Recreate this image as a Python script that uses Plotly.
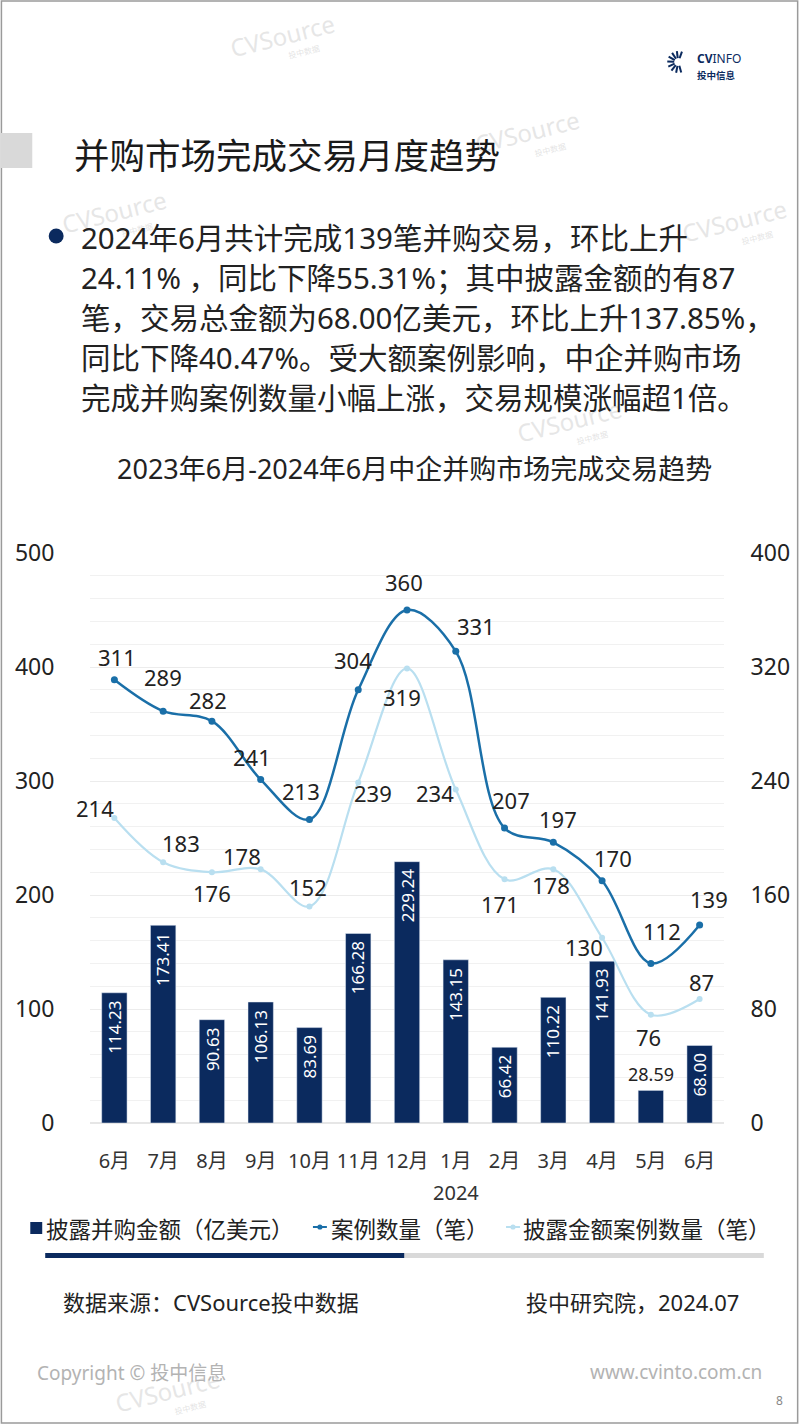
"""中企并购市场完成交易月度趋势 (2023.06-2024.06)."""

import math

import plotly.graph_objects as go

months = ["6月", "7月", "8月", "9月", "10月", "11月", "12月",
          "1月", "2月", "3月", "4月", "5月", "6月"]
year_label = "2024"
year_label_month = 7  # 1月 of 2024

amounts = [114.23, 173.41, 90.63, 106.13, 83.69, 166.28, 229.24,
           143.15, 66.42, 110.22, 141.93, 28.59, 68.00]
deal_counts = [311, 289, 282, 241, 213, 304, 360, 331, 207, 197, 170, 112, 139]
disclosed_counts = [214, 183, 176, 178, 152, 239, 319, 234, 171, 178, 130, 76, 87]

# label offsets (px) from each point, as placed in the original slide
count_label_shift = [(3, 23), (0, 34), (-4, 21), (-9, 23), (-8, 28), (-5, 30), (-3, 28),
                     (20, 25), (6, 28), (5, 23), (11, 23), (11, 32), (9, 26)]
disclosed_label_shift = [(-19, 10), (18, 19), (0, -21), (-19, 13), (-1, 19), (15, -11),
                         (-5, -29), (-21, -3), (-5, -25), (-2, -16), (-18, -9), (-2, -22),
                         (2, 17)]

title = "并购市场完成交易月度趋势"
bullet_lines = [
    "2024年6月共计完成139笔并购交易，环比上升",
    "24.11% ，同比下降55.31%；其中披露金额的有87",
    "笔，交易总金额为68.00亿美元，环比上升137.85%，",
    "同比下降40.47%。受大额案例影响，中企并购市场",
    "完成并购案例数量小幅上涨，交易规模涨幅超1倍。",
]
chart_title = "2023年6月-2024年6月中企并购市场完成交易趋势"
legend_names = ["披露并购金额（亿美元）", "案例数量（笔）", "披露金额案例数量（笔）"]

NAVY = "#0b2a5e"
BLUE = "#1a6fa8"
LIGHT = "#b9dff0"
TEXT = "#222222"
FONT = "Noto Sans, Noto Sans CJK SC, sans-serif"

W, H = 802, 1424
ML, MR, MT, MB = 90, 75, 553, 301
PW, PH = W - ML - MR, H - MT - MB


def px_x(px):
    return (px - ML) / PW


def px_y(py):
    return (H - MB - py) / PH


x_idx = list(range(len(months)))

fig = go.Figure()
fig.add_trace(go.Bar(
    x=x_idx, y=amounts, name=legend_names[0], marker_color=NAVY, width=0.52,
    showlegend=False,
))
fig.add_trace(go.Scatter(
    x=x_idx, y=deal_counts, name=legend_names[1], yaxis="y2",
    mode="lines+markers", line=dict(color=BLUE, width=2.5, shape="spline", smoothing=1),
    marker=dict(size=7, color=BLUE), cliponaxis=False, showlegend=False,
))
fig.add_trace(go.Scatter(
    x=x_idx, y=disclosed_counts, name=legend_names[2], yaxis="y2",
    mode="lines+markers", line=dict(color=LIGHT, width=2.2, shape="spline", smoothing=1),
    marker=dict(size=6, color=LIGHT), cliponaxis=False, showlegend=False,
))

ann = []
# bar value labels: rotated inside tall bars, above short ones
for i, v in enumerate(amounts):
    if v >= 40:
        ann.append(dict(x=i, y=v, xref="x", yref="y", text=f"{v:.2f}", showarrow=False,
                        textangle=-90, yanchor="top", yshift=-6,
                        font=dict(size=17, color="white", family=FONT)))
    else:
        ann.append(dict(x=i, y=v, xref="x", yref="y", text=f"{v:.2f}", showarrow=False,
                        yanchor="bottom", yshift=2, font=dict(size=18, color=TEXT, family=FONT)))

# line value labels
for values, shifts in [(deal_counts, count_label_shift),
                       (disclosed_counts, disclosed_label_shift)]:
    for i, (v, (dx, dy)) in enumerate(zip(values, shifts)):
        ann.append(dict(x=i, y=v, xref="x", yref="y2", text=str(v), showarrow=False,
                        xanchor="center", yanchor="middle", xshift=dx, yshift=dy,
                        font=dict(size=22, color=TEXT, family=FONT)))

ann.append(dict(x=year_label_month, y=px_y(1192), xref="x", yref="paper", text=year_label,
                showarrow=False, yanchor="middle",
                font=dict(size=20, color="#333333", family=FONT)))


def text_at(px, py, s, size, color=TEXT, anchor="left", **kw):
    ann.append(dict(x=px_x(px), y=px_y(py), xref="paper", yref="paper", text=s,
                    showarrow=False, xanchor=anchor, yanchor="middle",
                    font=dict(size=size, color=color, family=FONT), **kw))


# watermarks
for wx, wy in [(283, 35), (530, 132), (115, 212), (738, 220), (572, 420), (168, 1390)]:
    text_at(wx, wy, "CVSource", 24, color="rgba(205,205,205,0.5)", anchor="center",
            textangle=-14)
    text_at(wx + 22, wy + 17, "投中数据", 8, color="rgba(205,205,205,0.55)", anchor="center",
            textangle=-14)

text_at(72, 155, title, 35.5, color="#1a1a1a")
for i, line in enumerate(bullet_lines):
    text_at(79, 237 + i * 40.2, line, 29.5)
text_at(416, 468, chart_title, 27, anchor="center")

# legend
text_at(44, 1229, legend_names[0], 22.5)
text_at(330, 1229, legend_names[1], 22.5)
text_at(523, 1229, legend_names[2], 22.5)

text_at(61, 1302, "数据来源：CVSource投中数据", 22)
text_at(744, 1302, "投中研究院，2024.07", 22, anchor="right")
text_at(35, 1373, "Copyright © 投中信息", 19, color="#b3b3b3")
text_at(767, 1372, "www.cvinto.com.cn", 19, color="#b3b3b3", anchor="right")
text_at(783, 1400, "8", 12, color="#888888", anchor="center")

# logo
text_at(698, 66, "<b>CV</b>INFO<br><b><span style='font-size:9.5px'>投中信息</span></b>",
        12, color=NAVY, align="left")

shapes = []


def rect(x0, y0, x1, y1, color, line=None):
    shapes.append(dict(type="rect", xref="paper", yref="paper",
                       x0=px_x(x0), x1=px_x(x1), y0=px_y(y1), y1=px_y(y0),
                       fillcolor=color, line=line or dict(width=0), layer="below"))


def seg(x0, y0, x1, y1, color, width):
    shapes.append(dict(type="line", xref="paper", yref="paper",
                       x0=px_x(x0), x1=px_x(x1), y0=px_y(y0), y1=px_y(y1),
                       line=dict(color=color, width=width)))


def dot(cx, cy, r, color):
    shapes.append(dict(type="circle", xref="paper", yref="paper",
                       x0=px_x(cx - r), x1=px_x(cx + r), y0=px_y(cy + r), y1=px_y(cy - r),
                       fillcolor=color, line=dict(width=0)))


rect(1, 1, 801, 1423, "rgba(0,0,0,0)", line=dict(color="#9a9a9a", width=1.5))
rect(0, 133, 32, 168, "#d9d9d9")
dot(56, 236, 7.5, NAVY)

# legend symbols
rect(30, 1222, 42, 1234, NAVY)
seg(314, 1227, 328, 1227, BLUE, 2)
dot(321, 1227, 2.6, BLUE)
seg(508, 1227, 522, 1227, LIGHT, 2)
dot(515, 1227, 2.6, LIGHT)

# progress bar
rect(45, 1253, 406, 1258, NAVY)
rect(406, 1253, 767, 1258, "#d9d9d9")

# logo burst
for k in range(9):
    a = math.radians(70 + k * 27)
    seg(681 + 4 * math.cos(a), 62 - 4 * math.sin(a),
        681 + 11 * math.cos(a), 62 - 11 * math.sin(a), NAVY, 2)

fig.update_layout(
    width=W, height=H,
    margin=dict(l=ML, r=MR, t=MT, b=MB, pad=0),
    paper_bgcolor="white", plot_bgcolor="white",
    font=dict(family=FONT, color=TEXT),
    xaxis=dict(
        range=[-0.5, len(months) - 0.5], tickmode="array", tickvals=x_idx, ticktext=months,
        showgrid=False, zeroline=False, showline=False,
        ticks="outside", ticklen=20, tickcolor="rgba(0,0,0,0)",
        tickfont=dict(size=20, color="#333333", family=FONT),
    ),
    yaxis=dict(
        range=[0, 500], dtick=100, showgrid=True, gridcolor="#ececec", gridwidth=1,
        minor=dict(dtick=20, showgrid=True, gridcolor="#f1f1f1", gridwidth=1),
        zeroline=True, zerolinecolor="#e6e6e6", showline=False,
        ticks="outside", ticklen=30, tickcolor="rgba(0,0,0,0)",
        tickfont=dict(size=23, color=TEXT, family=FONT),
    ),
    yaxis2=dict(
        range=[0, 400], dtick=80, overlaying="y", side="right", showgrid=False,
        zeroline=False, showline=False,
        ticks="outside", ticklen=21, tickcolor="rgba(0,0,0,0)",
        tickfont=dict(size=23, color=TEXT, family=FONT),
    ),
    annotations=ann,
    shapes=shapes,
)

fig.write_html(
    "out.html",
    config={"displayModeBar": False},
    post_script="document.body.style.margin='0';document.body.style.overflow='hidden';",
)
